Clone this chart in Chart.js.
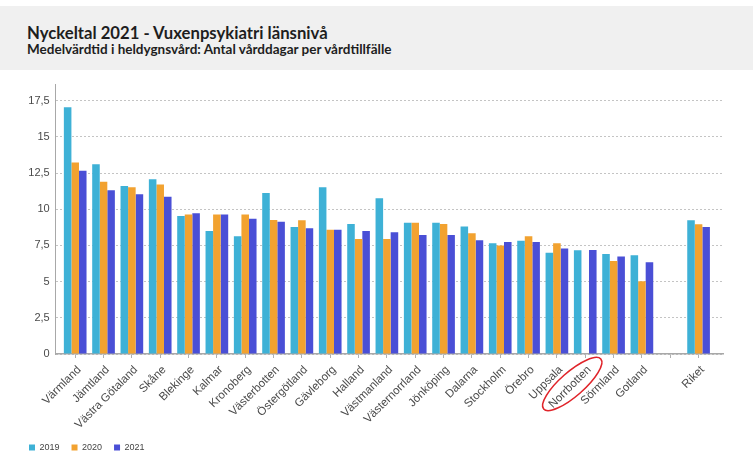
<!DOCTYPE html>
<html lang="sv">
<head>
<meta charset="utf-8">
<title>Nyckeltal 2021 - Vuxenpsykiatri länsnivå</title>
<script src="https://cdn.jsdelivr.net/npm/chart.js@4.4.1/dist/chart.umd.min.js"></script>
<style>
  html, body { margin: 0; padding: 0; background: #ffffff; overflow: hidden; }
  body { width: 753px; height: 457px; position: relative; }
  .band { position: absolute; left: 0; top: 6px; width: 753px; height: 64px; background: #f0f0f0; }
  .title, .subtitle { position: absolute; left: 27px; margin: 0; line-height: 1; color: #1e1e1e; font-family: Lato, "Liberation Sans", sans-serif; font-weight: bold; white-space: nowrap; }
  .title { top: 24.5px; font-size: 16.7px; }
  .subtitle { top: 43px; font-size: 13.5px; }
  #wrap { position: absolute; left: 0; top: 70px; width: 753px; height: 392px; }
</style>
</head>
<body>
<div class="band"></div>
<h1 class="title">Nyckeltal 2021 - Vuxenpsykiatri länsnivå</h1>
<h2 class="subtitle">Medelvärdtid i heldygnsvård: Antal vårddagar per vårdtillfälle</h2>
<div id="wrap"><canvas id="chart" width="753" height="392"></canvas></div>
<script>
// Län (plus an empty slot before the national total)
const categories = ['Värmland', 'Jämtland', 'Västra Götaland', 'Skåne', 'Blekinge', 'Kalmar', 'Kronoberg',
  'Västerbotten', 'Östergötland', 'Gävleborg', 'Halland', 'Västmanland', 'Västernorrland', 'Jönköping',
  'Dalarna', 'Stockholm', 'Örebro', 'Uppsala', 'Norrbotten', 'Sörmland', 'Gotland', '', 'Riket'];

const seriesNames = ['2019', '2020', '2021'];

// Antal vårddagar per vårdtillfälle
const values2019 = [17.05, 13.1, 11.6, 12.07, 9.54, 8.5, 8.13, 11.12, 8.78, 11.52, 8.98, 10.76, 9.07, 9.07,
  8.8, 7.65, 7.83, 7.0, 7.17, 6.91, 6.82, null, 9.24];
const values2020 = [13.22, 11.89, 11.52, 11.7, 9.63, 9.63, 9.63, 9.25, 9.24, 8.59, 7.95, 7.95, 9.07, 8.98,
  8.34, 7.49, 8.13, 7.65, null, 6.43, 5.02, null, 8.96];
const values2021 = [12.65, 11.31, 11.03, 10.87, 9.72, 9.63, 9.35, 9.14, 8.68, 8.59, 8.5, 8.41, 8.22, 8.22,
  7.86, 7.74, 7.74, 7.28, 7.19, 6.73, 6.34, null, 8.78];

const yTicks = [0, 2.5, 5, 7.5, 10, 12.5, 15, 17.5];

const colors = ['#3eb1d6', '#f2a230', '#4a4fd6'];
const highlighted = 'Norrbotten';

// Red ring around the highlighted county label
const ringPlugin = {
  id: 'ring',
  afterDraw(chart) {
    const xs = chart.scales.x, ys = chart.scales.y;
    const i = categories.indexOf(highlighted);
    if (i < 0) return;
    const cx = xs.getPixelForValue(i) - 13;
    const cy = ys.getPixelForValue(0) + 30;
    const ctx = chart.ctx;
    ctx.save();
    ctx.strokeStyle = '#e0242a';
    ctx.lineWidth = 1.6;
    ctx.beginPath();
    ctx.ellipse(cx, cy, 38, 12, -0.72, 0, Math.PI * 2);
    ctx.stroke();
    ctx.restore();
  }
};

new Chart(document.getElementById('chart'), {
  type: 'bar',
  data: {
    labels: categories,
    datasets: [values2019, values2020, values2021].map((vals, k) => ({
      label: seriesNames[k],
      data: vals,
      backgroundColor: colors[k],
      borderWidth: 0,
      categoryPercentage: 0.8,
      barPercentage: 1.0
    }))
  },
  options: {
    responsive: false,
    devicePixelRatio: 1,
    animation: false,
    layout: { padding: { left: 17, right: 30, top: 14, bottom: 0 } },
    plugins: {
      title: { display: false },
      tooltip: { enabled: false },
      legend: {
        position: 'bottom',
        align: 'start',
        labels: {
          boxWidth: 6,
          boxHeight: 6,
          padding: 12,
          color: '#444',
          font: { family: '"Liberation Sans", Arial, sans-serif', size: 9 }
        }
      }
    },
    scales: {
      x: {
        offset: true,
        afterBuildTicks(scale) {
          // leave a little room between the y axis and the first group
          scale._startValue = -0.688;
          scale._valueRange = 23.55;
        },
        afterFit(scale) { scale.height = 77; },
        grid: { display: true, drawOnChartArea: false, offset: false, tickLength: 4, color: '#b0b0b0' },
        border: { display: true, color: '#a8a8a8', width: 1.5 },
        ticks: {
          autoSkip: false,
          minRotation: 45,
          maxRotation: 45,
          padding: 5,
          labelOffset: 4,
          color: '#4a4a4a',
          font: { family: '"Liberation Sans", Arial, sans-serif', size: 11.5 }
        }
      },
      y: {
        min: 0,
        max: 18.65,
        bounds: 'data',
        afterFit(scale) { scale.width = 38.7; },
        afterBuildTicks(scale) { scale.ticks = yTicks.map(v => ({ value: v })); },
        grid: { color: '#c4c4c4', lineWidth: 1, drawTicks: false },
        border: { display: true, color: '#a8a8a8', width: 1, dash: [2, 2] },
        ticks: {
          stepSize: 2.5,
          includeBounds: false,
          padding: 6,
          color: '#4a4a4a',
          font: { family: '"Liberation Sans", Arial, sans-serif', size: 11 },
          callback: v => String(v).replace('.', ',')
        }
      }
    }
  },
  plugins: [ringPlugin]
});
</script>
</body>
</html>
